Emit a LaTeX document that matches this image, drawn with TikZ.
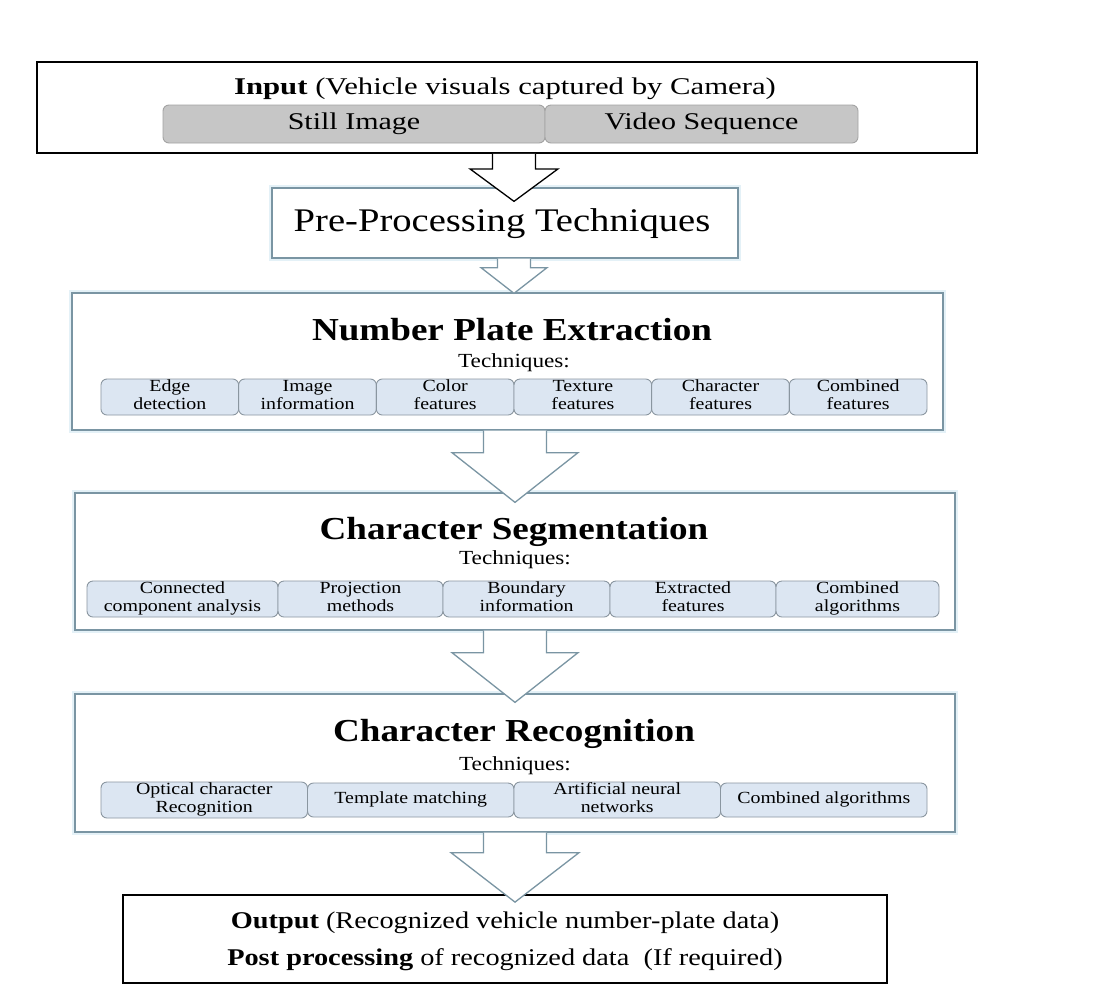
\documentclass[tikz,border=0pt]{standalone}
\usepackage{fontspec}
\usepackage{graphicx}
\setmainfont{Liberation Serif}
\usetikzlibrary{calc}
\definecolor{bluegray}{HTML}{7A95A3}
\definecolor{glow}{HTML}{E4F1F7}
\definecolor{subfill}{HTML}{DCE6F2}
\definecolor{subdraw}{HTML}{8A96A0}
\definecolor{grayfill}{HTML}{C6C6C6}
\definecolor{graydraw}{HTML}{A3A3A3}
% horizontally widened text (the reference lettering is stretched)
\newcommand\st[2][1.17]{\scalebox{#1}[1]{\begin{tabular}{@{}c@{}}#2\end{tabular}}}
\newcommand\sx[2][1.17]{\scalebox{#1}[1]{#2}}
\tikzset{
  blackbox/.style={draw=black, line width=1.8pt, fill=white, inner sep=0pt},
  bluebox/.style={draw=bluegray, line width=1.3pt, fill=white, inner sep=0pt,
     preaction={draw=glow, line width=6pt}},
  subbox/.style={draw=subdraw, line width=0.9pt, fill=subfill, rounded corners=6pt,
     inner sep=0pt, align=center, font=\fontsize{17}{18}\selectfont},
  graybox/.style={draw=graydraw, line width=0.9pt, fill=grayfill, rounded corners=6pt,
     inner sep=0pt, font=\fontsize{24}{28}\selectfont},
  txt/.style={inner sep=0pt, anchor=base},
  title/.style={txt, font=\fontsize{32}{38}\selectfont\bfseries},
  techs/.style={txt, font=\fontsize{20}{22}\selectfont},
}
% block arrow from node #1 to node #2, centre x #3, half shaft #4, half head #5,
% shoulder drop #6, tip overlap #7, colour #8
\newcommand\blockarr[8]{%
  \path let \p1=(#1.south), \p2=(#2.north) in
    [fill=white] ({#3-#4},\y1) -- ({#3-#4},{\y1-#6}) -- ({#3-#5},{\y1-#6}) --
      (#3,{\y2-#7}) -- ({#3+#5},{\y1-#6}) -- ({#3+#4},{\y1-#6}) -- ({#3+#4},\y1) -- cycle;
  \draw[draw=#8, line width=1.3pt, line join=miter] let \p1=(#1.south), \p2=(#2.north) in
    ({#3-#4},\y1) -- ({#3-#4},{\y1-#6}) -- ({#3-#5},{\y1-#6}) --
      (#3,{\y2-#7}) -- ({#3+#5},{\y1-#6}) -- ({#3+#4},{\y1-#6}) -- ({#3+#4},\y1);
}
\begin{document}
\begin{tikzpicture}[x=1pt,y=1pt]
\useasboundingbox (0,0) rectangle (1094,-1005);
\fill[white] (0,0) rectangle (1094,-1005);

% ---- Input
\node[blackbox, minimum width=940, minimum height=91] (input) at (507,-107.5) {};
\node[txt, font=\fontsize{24}{28}\selectfont] (inputt) at (505,-94) {\sx[1.28]{\textbf{Input} (Vehicle visuals captured by Camera)}};
\node[graybox, minimum width=382, minimum height=38] (still) at (354,-124) {\sx[1.25]{Still Image}};
\node[graybox, minimum width=313, minimum height=38] (video) at (701.5,-124) {\sx[1.25]{Video Sequence}};

% ---- Pre-processing
\node[bluebox, minimum width=466, minimum height=70] (pre) at (505,-223) {};
\node[txt, font=\fontsize{33}{36}\selectfont] (pret) at (502,-231) {\sx[1.17]{Pre-Processing Techniques}};

% ---- Number plate extraction
\node[bluebox, minimum width=871, minimum height=137] (npe) at (507.5,-361.5) {};
\node[title] (npet) at (512,-340) {\sx[1.16]{Number Plate Extraction}};
\node[techs] (npetech) at (514,-367) {\sx[1.16]{Techniques:}};
\foreach \i/\t [count=\k from 0] in {a/{Edge\\detection},b/{Image\\information},c/{Color\\features},d/{Texture\\features},e/{Character\\features},f/{Combined\\features}}{
  \node[subbox, minimum width=137.7, minimum height=36] (npe\i) at ({101+137.67*\k+68.83},-397) {\st{\t}};
}

% ---- Character segmentation
\node[bluebox, minimum width=880, minimum height=137] (cs) at (515,-561.5) {};
\node[title] (cst) at (514,-539) {\sx[1.16]{Character Segmentation}};
\node[techs] (cstech) at (515,-564) {\sx[1.16]{Techniques:}};
\node[subbox, minimum width=191, minimum height=34] (csa) at (182.5,-599) {\st{Connected\\component analysis}};
\node[subbox, minimum width=165, minimum height=34] (csb) at (360.5,-599) {\st{Projection\\methods}};
\node[subbox, minimum width=167, minimum height=34] (csc) at (526.5,-599) {\st{Boundary\\information}};
\node[subbox, minimum width=166, minimum height=34] (csd) at (693,-599) {\st{Extracted\\features}};
\node[subbox, minimum width=163, minimum height=34] (cse) at (857.5,-599) {\st{Combined\\algorithms}};

% ---- Character recognition
\node[bluebox, minimum width=880, minimum height=138] (cr) at (515,-763) {};
\node[title] (crt) at (514,-741) {\sx[1.16]{Character Recognition}};
\node[techs] (crtech) at (515,-770) {\sx[1.16]{Techniques:}};
\node[subbox, minimum width=206.5, minimum height=34] (cra) at (204.25,-800) {\st{Optical character\\Recognition}};
\node[subbox, minimum width=206.5, minimum height=34] (crb) at (410.75,-800) {\st{Template matching}};
\node[subbox, minimum width=206.5, minimum height=34] (crc) at (617.25,-800) {\st{Artificial neural\\networks}};
\node[subbox, minimum width=206.5, minimum height=34] (crd) at (823.75,-800) {\st{Combined algorithms}};

% ---- Output
\node[blackbox, minimum width=764, minimum height=88] (out) at (505,-939) {};
\node[txt, font=\fontsize{24}{28}\selectfont] (outt1) at (505,-928) {\sx[1.18]{\textbf{Output} (Recognized vehicle number-plate data)}};
\node[txt, font=\fontsize{24}{28}\selectfont] (outt2) at (505,-965) {\sx[1.18]{\textbf{Post processing} of recognized data~~(If required)}};

% ---- Block arrows
\blockarr{input}{pre}{514}{21.5}{44}{15}{14}{black}
\blockarr{pre}{npe}{514}{16.5}{33}{9}{1}{bluegray}
\blockarr{npe}{cs}{515}{31.5}{63}{22}{10}{bluegray}
\blockarr{cs}{cr}{515}{31.5}{63}{22}{9}{bluegray}
\blockarr{cr}{out}{515}{31.5}{64}{20}{8}{bluegray}
\end{tikzpicture}
\end{document}
